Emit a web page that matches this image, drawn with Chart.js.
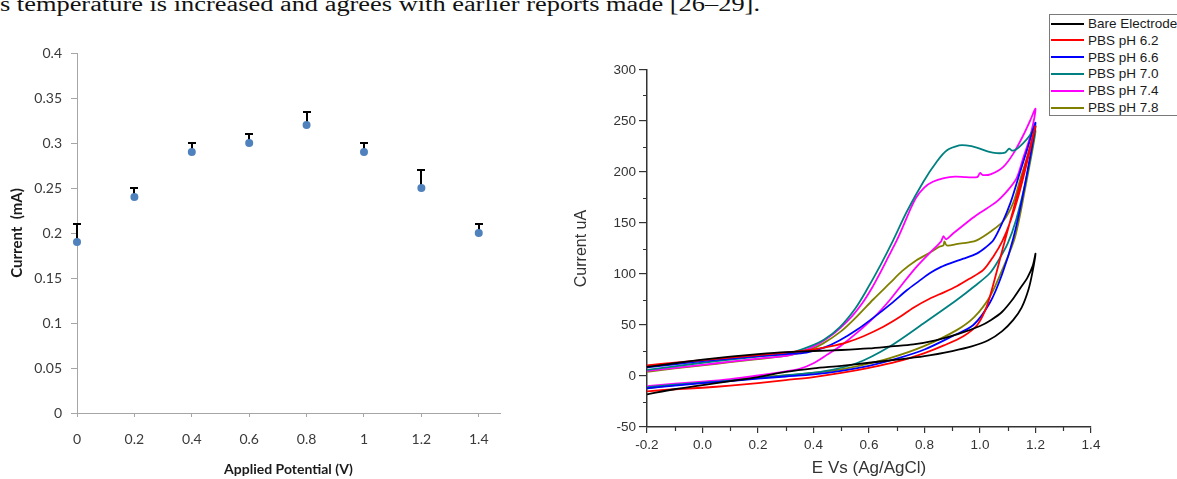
<!DOCTYPE html>
<html>
<head>
<meta charset="utf-8">
<script src="https://cdn.jsdelivr.net/npm/chart.js@4.4.0/dist/chart.umd.min.js"></script>
<style>
  html, body { margin: 0; padding: 0; background: #fff; width: 1177px; height: 479px; overflow: hidden; position: relative; }
  #caption { position: absolute; left: 0; top: -6px; font-family: "Liberation Serif", "Times New Roman", serif; font-size: 20px; line-height: 20px; white-space: nowrap; transform-origin: 0 0; color: #111; }
  #leftBox { position: absolute; left: 0; top: 0; width: 560px; height: 479px; }
  #rightBox { position: absolute; left: 560px; top: 0; width: 617px; height: 479px; }
  #legend { position: absolute; left: 1049px; top: 14px; width: 140px; height: 100px; border: 1px solid #7a7a7a; background: #fff; font-family: "Liberation Sans", Arial, sans-serif; font-size: 13.5px; color: #1a1a1a; }
  #legend .row { position: absolute; left: 0; height: 17px; display: flex; align-items: center; white-space: nowrap; }
  #legend .swatch { width: 33px; height: 2px; margin-left: 1px; margin-right: 4px; }
</style>
</head>
<body>
<div id="caption">s temperature is increased and agrees with earlier reports made [26–29].</div>
<div id="leftBox"><canvas id="potentialChart"></canvas></div>
<div id="rightBox"><canvas id="cvChart"></canvas></div>
<div id="legend"></div>
<script>
// ---- Current vs applied potential (mean with upper error) ----
const potentials   = [0, 0.2, 0.4, 0.6, 0.8, 1.0, 1.2, 1.4];
const currents     = [0.19, 0.24, 0.29, 0.30, 0.32, 0.29, 0.25, 0.20];
const upperErrors  = [0.02, 0.01, 0.01, 0.01, 0.015, 0.01, 0.02, 0.01];
const potentialTicks = [0, 0.2, 0.4, 0.6, 0.8, 1, 1.2, 1.4];
const currentTicks   = [0, 0.05, 0.1, 0.15, 0.2, 0.25, 0.3, 0.35, 0.4];

// ---- Cyclic voltammograms, [E (V vs Ag/AgCl), I (uA)] around each loop ----
const bareElectrode = [
  [-0.2,-18],[-0.1,-13],[0.0,-9],[0.1,-5],[0.2,-1],[0.3,4],[0.4,7.5],[0.5,10],[0.6,13],[0.7,16],
  [0.8,19.5],[0.9,24.5],[0.97,29],[1.03,35],[1.08,44],[1.12,55],[1.15,67],[1.175,85],[1.19,103],[1.2,120],
  [1.19,108],[1.17,96],[1.15,88],[1.12,76],[1.08,63],[1.04,55],[1.0,49],[0.92,41],[0.84,35],[0.76,31],
  [0.68,29],[0.6,27],[0.5,25.5],[0.4,24.5],[0.3,23.5],[0.2,21.5],[0.1,19],[0.0,16],[-0.1,12.5],[-0.2,9]
];
const pbs62 = [
  [-0.2,-15],[-0.1,-13],[0.0,-11.5],[0.1,-9.5],[0.2,-7],[0.3,-4],[0.4,-1],[0.5,3],[0.6,8],[0.7,14],
  [0.8,22.5],[0.87,30],[0.94,39],[0.99,50],[1.024,68],[1.05,92],[1.084,127],[1.12,163],[1.16,204],[1.2,245],
  [1.17,210],[1.14,178],[1.11,152],[1.08,132],[1.05,118],[1.012,104],[0.96,95],[0.916,88],[0.87,82],[0.82,76],
  [0.76,67],[0.712,58],[0.65,48],[0.58,39],[0.52,33],[0.46,29],[0.4,26],[0.3,23],[0.2,20.5],[0.1,18],
  [0.0,15.5],[-0.1,13],[-0.2,10.5]
];
const pbs66 = [
  [-0.2,-12],[-0.1,-9.5],[0.0,-7],[0.1,-5],[0.2,-2.5],[0.3,-0.5],[0.4,1.5],[0.5,5],[0.6,10],[0.7,17],
  [0.8,26],[0.9,39],[0.976,50],[1.036,72],[1.08,100],[1.12,135],[1.16,185],[1.2,248],
  [1.17,222],[1.14,196],[1.11,170],[1.08,150],[1.048,133],[1.02,126],[0.988,120],[0.94,115],[0.892,110.5],
  [0.86,107],[0.82,101],[0.78,93],[0.736,84],[0.68,71],[0.615,57],[0.555,45],[0.495,35],[0.44,28],
  [0.375,23],[0.3,21.5],[0.2,19.5],[0.1,17],[0.0,14.5],[-0.1,11.5],[-0.2,8.5]
];
const pbs70 = [
  [-0.2,-11],[-0.1,-8.5],[0.0,-6.5],[0.1,-4.5],[0.2,-2],[0.315,1],[0.435,4.5],[0.555,12.5],[0.675,29],
  [0.796,51.5],[0.916,74.5],[0.98,88],[1.036,101],[1.07,115],[1.1,130],[1.13,153],[1.16,185],[1.18,212],[1.2,245],
  [1.18,236],[1.155,228],[1.13,222],[1.115,221],[1.105,223],[1.09,219],[1.06,218.5],[1.03,220],[0.988,224],
  [0.95,226],[0.925,226],[0.88,221],[0.844,210],[0.796,190.5],[0.736,161],[0.687,133],[0.64,108],[0.591,84],
  [0.55,66],[0.495,48],[0.44,36],[0.387,29],[0.315,22.5],[0.2,19],[0.1,16],[0.0,13],[-0.1,9.5],[-0.2,6]
];
const pbs74 = [
  [-0.2,-10],[-0.1,-7.5],[0.0,-5.5],[0.1,-3],[0.2,0.5],[0.3,4.5],[0.35,7],[0.4,12.5],[0.45,21],[0.5,30],
  [0.555,42],[0.62,58],[0.675,74.5],[0.72,90],[0.771,107],[0.82,121],[0.86,132],[0.868,137],[0.878,134],
  [0.9,139],[0.964,153],[1.0,160],[1.06,171],[1.1,182],[1.132,194],[1.156,214],[1.18,234],[1.2,262],
  [1.18,250],[1.156,236],[1.12,218],[1.084,205],[1.04,198],[1.01,197],[1.0,199],[0.99,195],[0.95,195],
  [0.91,195.5],[0.87,194],[0.83,190.5],[0.8,185],[0.77,175],[0.745,161],[0.72,145],[0.7,133],[0.67,117],
  [0.64,101],[0.61,86],[0.575,71],[0.54,59],[0.5,48],[0.46,39],[0.42,32],[0.38,26.5],[0.315,20.5],
  [0.2,17],[0.1,14],[0.0,11],[-0.1,8],[-0.2,5]
];
const pbs78 = [
  [-0.2,-12],[-0.1,-9],[0.0,-6.5],[0.1,-4],[0.2,-1.5],[0.315,1],[0.45,4.5],[0.555,9.5],[0.675,17.5],
  [0.796,29],[0.916,45],[0.98,58],[1.036,78],[1.08,104],[1.125,135],[1.16,180],[1.2,240],
  [1.17,214],[1.144,192],[1.12,170],[1.084,152],[1.04,142],[0.988,133],[0.96,131],[0.92,129.5],[0.88,128],
  [0.872,132],[0.868,128],[0.855,127],[0.82,121],[0.771,113.5],[0.72,103],[0.675,91],[0.615,75],[0.555,58],
  [0.5,44],[0.435,32],[0.38,25],[0.315,20.5],[0.2,16.5],[0.1,13.5],[0.0,10.5],[-0.1,7.5],[-0.2,4]
];
const seriesNames = ['Bare Electrode', 'PBS pH 6.2', 'PBS pH 6.6', 'PBS pH 7.0', 'PBS pH 7.4', 'PBS pH 7.8'];
const seriesLoops = [bareElectrode, pbs62, pbs66, pbs70, pbs74, pbs78];
const potentialAxisTicks = [-0.2, 0, 0.2, 0.4, 0.6, 0.8, 1.0, 1.2, 1.4];
const cvCurrentTicks = [-50, 0, 50, 100, 150, 200, 250, 300];

// ---- styling ----
const seriesColors = ['#000000', '#ff0000', '#0000ff', '#008080', '#ff00ff', '#808000'];
const excelAxis = '#a6a6a6';
const originAxis = '#333333';

// upper error bars drawn beneath the markers
const upperErrorBars = {
  id: 'upperErrorBars',
  beforeDatasetsDraw(chart) {
    const { ctx, scales: { x, y } } = chart;
    ctx.save();
    ctx.strokeStyle = '#000';
    ctx.lineWidth = 2;
    potentials.forEach((p, i) => {
      const px = Math.round(x.getPixelForValue(p));
      const y0 = y.getPixelForValue(currents[i]);
      const y1 = Math.round(y.getPixelForValue(currents[i] + upperErrors[i]));
      ctx.beginPath();
      ctx.moveTo(px, y0);
      ctx.lineTo(px, y1);
      ctx.moveTo(px - 4, y1);
      ctx.lineTo(px + 4, y1);
      ctx.stroke();
    });
    ctx.restore();
  }
};

new Chart(document.getElementById('potentialChart'), {
  type: 'scatter',
  data: {
    datasets: [{
      data: potentials.map((p, i) => ({ x: p, y: currents[i] })),
      backgroundColor: '#4f81bd',
      borderColor: '#4f81bd',
      pointRadius: 4,
      pointBorderWidth: 0,
      clip: false
    }]
  },
  options: {
    responsive: true,
    maintainAspectRatio: false,
    animation: false,
    events: [],
    layout: { padding: { top: 53, right: 60, bottom: 0, left: 0 } },
    plugins: { legend: { display: false }, tooltip: { enabled: false } },
    scales: {
      x: {
        type: 'linear', min: 0, max: 1.474,
        afterBuildTicks(s) { s.ticks = potentialTicks.map(v => ({ value: v })); },
        afterFit(s) { s.height = 66; },
        grid: { display: true, drawOnChartArea: false, drawTicks: true, tickLength: 4, color: excelAxis },
        border: { display: true, color: excelAxis, width: 1 },
        ticks: { padding: 14, color: '#3a3a3a', font: { family: 'Lato', size: 14 }, maxRotation: 0, autoSkip: false,
                 callback: v => String(parseFloat(v.toFixed(1))) },
        title: { display: true, text: 'Applied Potential (V)', color: '#1a1a1a',
                 font: { family: 'Lato', size: 14, weight: 'bold' }, padding: { top: 0, bottom: 1 } }
      },
      y: {
        type: 'linear', min: 0, max: 0.4,
        afterBuildTicks(s) { s.ticks = currentTicks.map(v => ({ value: v })); },
        afterFit(s) { s.width = 77; },
        grid: { display: true, drawOnChartArea: false, drawTicks: true, tickLength: 6, color: excelAxis },
        border: { display: true, color: excelAxis, width: 1 },
        ticks: { padding: 9, color: '#3a3a3a', font: { family: 'Lato', size: 14 },
                 callback: v => String(parseFloat(v.toFixed(2))) },
        title: { display: true, text: 'Current  (mA)', color: '#1a1a1a',
                 font: { family: 'Lato', size: 15, weight: 'bold' }, padding: { top: 8, bottom: 0 } }
      }
    }
  },
  plugins: [upperErrorBars]
});

// short minor ticks between the labelled ones
const minorTicks = {
  id: 'minorTicks',
  afterDraw(chart) {
    const { ctx, scales: { x, y } } = chart;
    ctx.save();
    ctx.strokeStyle = originAxis;
    ctx.lineWidth = 1.2;
    ctx.beginPath();
    for (let i = 0; i < potentialAxisTicks.length - 1; i++) {
      const px = Math.round(x.getPixelForValue((potentialAxisTicks[i] + potentialAxisTicks[i + 1]) / 2)) + 0.5;
      ctx.moveTo(px, y.bottom);
      ctx.lineTo(px, y.bottom + 4);
    }
    for (let i = 0; i < cvCurrentTicks.length - 1; i++) {
      const py = Math.round(y.getPixelForValue((cvCurrentTicks[i] + cvCurrentTicks[i + 1]) / 2)) + 0.5;
      ctx.moveTo(x.left, py);
      ctx.lineTo(x.left - 4, py);
    }
    ctx.stroke();
    ctx.restore();
  }
};

new Chart(document.getElementById('cvChart'), {
  type: 'scatter',
  data: {
    datasets: seriesLoops.map((loop, i) => ({
      label: seriesNames[i],
      data: loop.map(([e, c]) => ({ x: e, y: c })),
      showLine: true,
      borderColor: seriesColors[i],
      backgroundColor: seriesColors[i],
      borderWidth: 1.8,
      pointRadius: 0,
      tension: 0.3,
      fill: false
    }))
  },
  options: {
    responsive: true,
    maintainAspectRatio: false,
    animation: false,
    events: [],
    layout: { padding: { top: 70, right: 86, bottom: 0, left: 0 } },
    plugins: { legend: { display: false }, tooltip: { enabled: false } },
    scales: {
      x: {
        type: 'linear', min: -0.2, max: 1.4,
        afterBuildTicks(s) { s.ticks = potentialAxisTicks.map(v => ({ value: v })); },
        afterFit(s) { s.height = 52; },
        grid: { display: true, drawOnChartArea: false, drawTicks: true, tickLength: 6, color: originAxis, lineWidth: 1.2 },
        border: { display: true, color: originAxis, width: 1.5 },
        ticks: { padding: 4, color: originAxis, font: { family: 'Liberation Sans', size: 13.5 }, maxRotation: 0, autoSkip: false,
                 callback: v => v.toFixed(1) },
        title: { display: true, text: 'E Vs (Ag/AgCl)', color: originAxis,
                 font: { family: 'Liberation Sans', size: 17 }, padding: { top: 0, bottom: 0 } }
      },
      y: {
        type: 'linear', min: -50, max: 300,
        afterBuildTicks(s) { s.ticks = cvCurrentTicks.map(v => ({ value: v })); },
        afterFit(s) { s.width = 87; },
        grid: { display: true, drawOnChartArea: false, drawTicks: true, tickLength: 8, color: originAxis, lineWidth: 1.2 },
        border: { display: true, color: originAxis, width: 1.5 },
        ticks: { padding: 3, color: originAxis, font: { family: 'Liberation Sans', size: 13.5 }, callback: v => String(v) },
        title: { display: true, text: 'Current uA', color: originAxis,
                 font: { family: 'Liberation Sans', size: 16 }, padding: { top: 12, bottom: 0 } }
      }
    }
  },
  plugins: [minorTicks]
});

// legend box for the voltammograms
const legend = document.getElementById('legend');
seriesNames.forEach((name, i) => {
  const row = document.createElement('div');
  row.className = 'row';
  row.style.top = (i * 16.8) + 'px';
  const sw = document.createElement('span');
  sw.className = 'swatch';
  sw.style.background = seriesColors[i];
  const label = document.createElement('span');
  label.textContent = name;
  row.appendChild(sw);
  row.appendChild(label);
  legend.appendChild(row);
});

// stretch the running text line to its column width
const caption = document.getElementById('caption');
function fitCaption() {
  caption.style.transform = 'none';
  const w = caption.getBoundingClientRect().width;
  caption.style.transform = 'scaleX(' + (760 / w) + ')';
}
fitCaption();
if (document.fonts && document.fonts.ready) document.fonts.ready.then(fitCaption);
</script>
</body>
</html>
